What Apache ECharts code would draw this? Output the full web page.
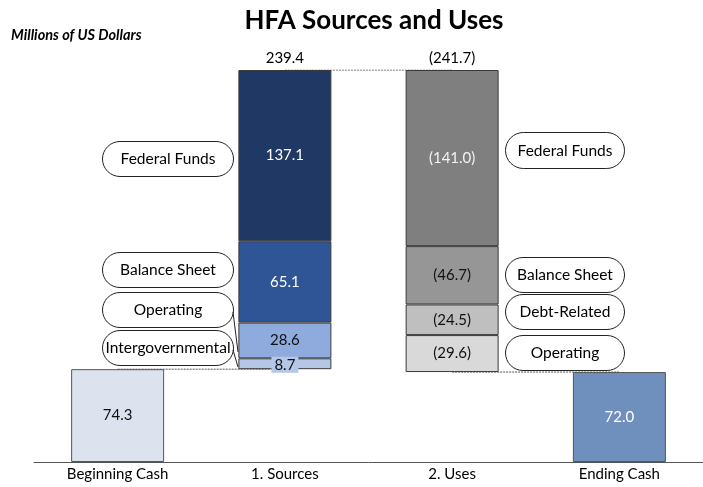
<!DOCTYPE html>
<html>
<head>
<meta charset="utf-8">
<script src="https://cdn.jsdelivr.net/npm/echarts@6/dist/echarts.min.js"></script>
<style>
html,body{margin:0;padding:0;background:#fff;}
#chart{width:703px;height:487px;}
</style>
</head>
<body>
<div id="chart"></div>
<script>
// ---- data ----
var categories = ['Beginning Cash', '1. Sources', '2. Uses', 'Ending Cash'];
var cashValues = [74.3, null, null, 72.0];
var baseValues = [null, 74.3, 72.0, null];
// layers stacked bottom to top: [sources, uses]
var layer1 = [null, 8.7, 29.6, null];   // Intergovernmental / Operating
var layer2 = [null, 28.6, 24.5, null];  // Operating / Debt-Related
var layer3 = [null, 65.1, 46.7, null];  // Balance Sheet / Balance Sheet
var layer4 = [null, 137.1, 141.0, null];// Federal Funds / Federal Funds
var totalLabels = [null, '239.4', '(241.7)', null];
var topLevel = 313.8;
var connector1 = [74.3, 74.3, null, null];
var connector2 = [null, topLevel, topLevel, null];
var connector3 = [null, null, 72.0, 72.0];

var FONT = 'Lato';
var VFS = 15;
var fmtVal = function (v, idx) {
  return idx === 2 ? '(' + v.toFixed(1) + ')' : v.toFixed(1);
};
function build(vals, colors, textColors, extra) {
  return vals.map(function (v, i) {
    if (v == null) return null;
    var lab = {show: true, position: 'inside', color: textColors[i], fontSize: VFS, fontFamily: FONT,
      formatter: fmtVal(v, i)};
    if (extra && extra[i]) Object.assign(lab, extra[i]);
    return {value: v, itemStyle: {color: colors[i]}, label: lab};
  });
}
var border = {borderColor: '#3a3a3a', borderWidth: 1};
var barW = 93;

var series = [
  {type: 'bar', stack: 'w', barWidth: barW, z: 3, itemStyle: Object.assign({}, border, {borderColor: '#555'}),
   data: build(cashValues, [null, null, null, '#6f8fbd'], ['#111', null, null, '#fff'])
     .map(function (d, i) { if (d && i === 0) d.itemStyle.color = '#dde3ee'; return d; })},
  {type: 'bar', stack: 'w', barWidth: barW, z: 3, itemStyle: {color: 'transparent'}, data: baseValues},
  {type: 'bar', stack: 'w', barWidth: barW, z: 3, itemStyle: border,
   data: build(layer1, [null, '#b4c7e7', '#d9d9d9', null], [null, '#111', '#111', null],
     [null, {backgroundColor: '#b4c7e7', padding: [1, 3, 0, 3], offset: [0, 1]}, null, null])},
  {type: 'bar', stack: 'w', barWidth: barW, z: 3, itemStyle: border,
   data: build(layer2, [null, '#8faadc', '#bfbfbf', null], [null, '#111', '#111', null])},
  {type: 'bar', stack: 'w', barWidth: barW, z: 3, itemStyle: border,
   data: build(layer3, [null, '#2f5597', '#969696', null], [null, '#fff', '#111', null])},
  {type: 'bar', stack: 'w', barWidth: barW, z: 3, itemStyle: border,
   data: build(layer4, [null, '#203864', '#7f7f7f', null], [null, '#fff', '#f2f2f2', null])},
  {type: 'scatter', symbolSize: 0, z: 4, itemStyle: {opacity: 1},
   data: totalLabels.map(function (t) { return t == null ? null : topLevel; }),
   label: {show: true, position: 'top', distance: 4, color: '#000', fontSize: VFS, fontFamily: FONT,
     formatter: function (p) { return totalLabels[p.dataIndex]; }}}
];
[connector1, connector2, connector3].forEach(function (c) {
  series.push({type: 'line', data: c, z: 1, symbol: 'none', silent: true,
    lineStyle: {color: '#555', width: 1, type: [2, 1]}});
});

var chart = echarts.init(document.getElementById('chart'), null, {renderer: 'canvas'});

function callout(x, y, w, h, text) {
  return {type: 'group', left: x, top: y, children: [
    {type: 'rect', shape: {x: 0, y: 0, width: w, height: h, r: h / 2},
     style: {fill: '#fff', stroke: '#222', lineWidth: 1}},
    {type: 'text', style: {text: text, x: w / 2, y: h / 2, align: 'center', verticalAlign: 'middle',
      fill: '#000', font: '15.5px ' + FONT}}
  ]};
}

chart.setOption({
  animation: false,
  backgroundColor: '#fff',
  title: [
    {text: 'HFA Sources and Uses', left: 369, top: 3, textAlign: 'center',
     textStyle: {fontFamily: FONT, fontWeight: 'bold', fontSize: 26, color: '#000'}},
    {text: 'Millions of US Dollars', left: 6, top: 23,
     textStyle: {fontFamily: FONT, fontWeight: 'bold', fontStyle: 'italic', fontSize: 14.5, color: '#000'}}
  ],
  grid: {left: 34, right: -1, top: 70, bottom: 25, containLabel: false},
  xAxis: {type: 'category', data: categories,
    axisLine: {show: true, lineStyle: {color: '#555', width: 1}},
    axisTick: {show: false},
    axisLabel: {color: '#000', fontSize: 15, fontFamily: FONT, margin: 5}},
  yAxis: {type: 'value', min: 0, max: topLevel, show: false, splitLine: {show: false}},
  series: series,
  graphic: [
    callout(102, 141, 131, 35, 'Federal Funds'),
    callout(102, 252, 131, 35, 'Balance Sheet'),
    callout(102, 292, 131, 35, 'Operating'),
    callout(102, 330, 131, 35, 'Intergovernmental'),
    callout(505, 132, 119, 36, 'Federal Funds'),
    callout(505, 257, 119, 35, 'Balance Sheet'),
    callout(505, 294, 119, 35, 'Debt-Related'),
    callout(505, 335, 119, 35, 'Operating'),
    {type: 'line', shape: {x1: 233, y1: 312, x2: 238, y2: 352}, style: {stroke: '#222', lineWidth: 1}},
    {type: 'line', shape: {x1: 233, y1: 350, x2: 238, y2: 367}, style: {stroke: '#222', lineWidth: 1}}
  ]
});
</script>
</body>
</html>
